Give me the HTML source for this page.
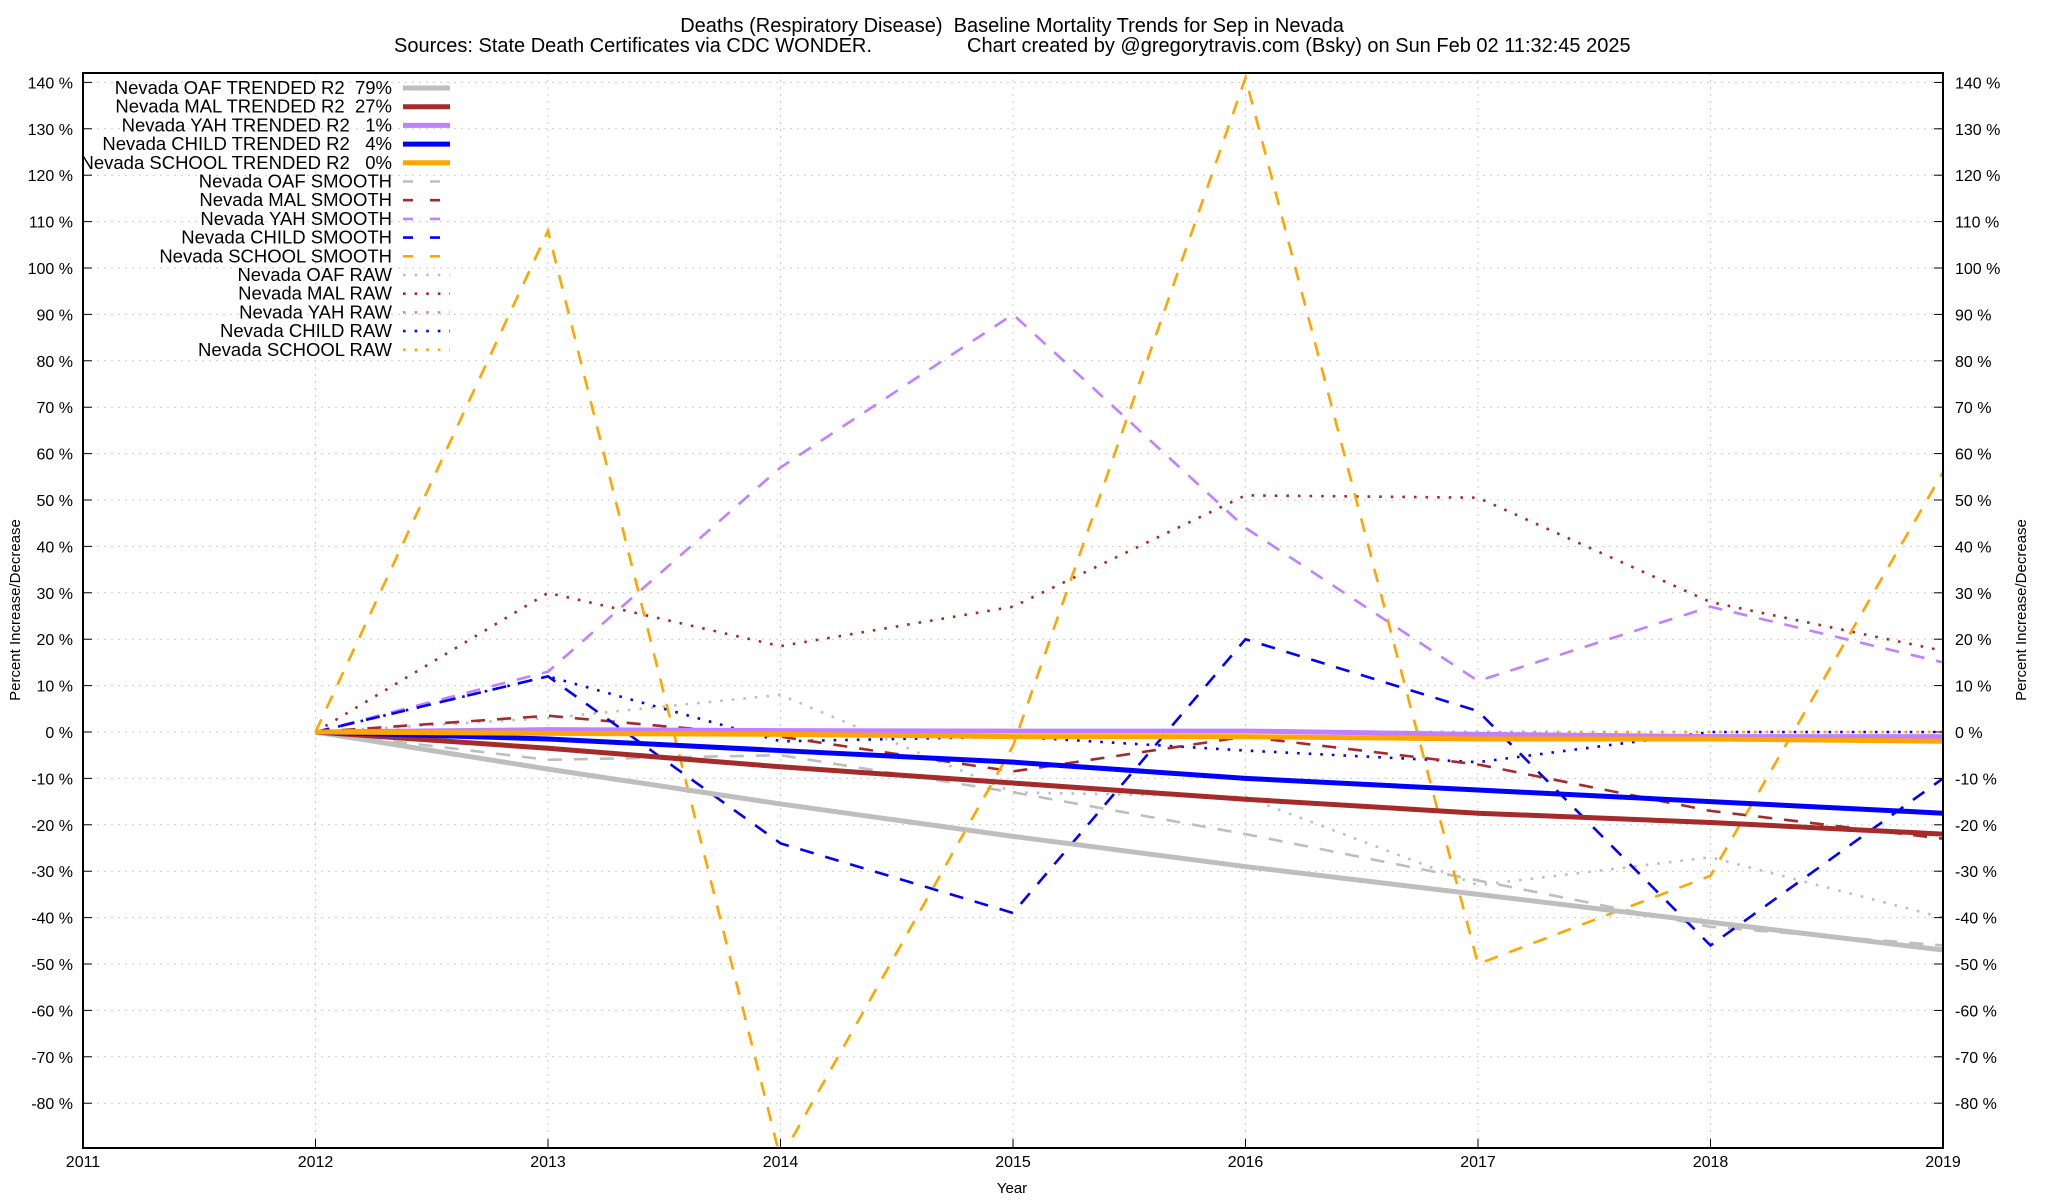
<!DOCTYPE html>
<html><head><meta charset="utf-8"><style>
html,body{margin:0;padding:0;background:#fff;}
svg{display:block;font-family:"Liberation Sans",Arial,sans-serif;}
.pre{white-space:pre;}
</style></head><body>
<svg id="chart" width="2048" height="1200" viewBox="0 0 2048 1200" xmlns="http://www.w3.org/2000/svg">
<text x="1012" y="32" font-size="20" text-anchor="middle" class="pre">Deaths (Respiratory Disease)  Baseline Mortality Trends for Sep in Nevada</text>
<text x="394" y="52" font-size="20">Sources: State Death Certificates via CDC WONDER.</text>
<text x="967" y="52" font-size="20">Chart created by @gregorytravis.com (Bsky) on Sun Feb 02 11:32:45 2025</text>
<g id="grid"></g><g id="series"></g><g id="axes"></g><g id="legend"></g>
<text transform="translate(20,610) rotate(-90)" font-size="15" text-anchor="middle">Percent Increase/Decrease</text>
<text transform="translate(2026,610) rotate(-90)" font-size="15" text-anchor="middle">Percent Increase/Decrease</text>
<text x="1012" y="1193" font-size="15" text-anchor="middle">Year</text>
</svg>
<script>
const years=[2012,2013,2014,2015,2016,2017,2018,2019];
const xTicks=[2011,2012,2013,2014,2015,2016,2017,2018,2019];
const yTicks=[140,130,120,110,100,90,80,70,60,50,40,30,20,10,0,-10,-20,-30,-40,-50,-60,-70,-80];
const oafTrend=[0,-8,-15.5,-22.5,-29,-35,-41,-47];
const malTrend=[0,-3.5,-7.5,-11,-14.5,-17.5,-19.5,-22];
const yahTrend=[0,0.5,0.3,0.2,0.2,-0.5,-1,-1];
const childTrend=[0,-1.5,-4,-6.5,-10,-12.5,-15,-17.5];
const schoolTrend=[0,-0.3,-0.5,-1,-1,-1.5,-1.5,-2];
const oafSmooth=[0,-6,-5,-13,-22,-32,-42,-46];
const malSmooth=[0,3.5,-1,-8.5,-1,-7,-17,-23];
const yahSmooth=[0,13,57,90,44,11,27,15];
const childSmooth=[0,12,-24,-39,20,4.5,-46,-10];
const schoolSmooth=[0,108,-92,-3,141,-50,-31,56];
const oafRaw=[0,3,8,-13,-14,-33,-27,-40];
const malRaw=[0,30,18.5,27,51,50.5,28,17.5];
const yahRaw=[0,0,0,0,0,0,0,0];
const childRaw=[0,12,-2,-1,-4,-6.5,0,0];
const schoolRaw=[0,0,0,0,0,0,0,0];

const L=83,R=1943,T=73,B=1148;
const x=v=>L+(v-2011)*(R-L)/8;
const y=v=>732-v*4.64;
const NS="http://www.w3.org/2000/svg";
function mk(tag,attrs,parent){const e=document.createElementNS(NS,tag);for(const k in attrs)e.setAttribute(k,attrs[k]);parent.appendChild(e);return e;}
const grid=document.getElementById('grid'),axes=document.getElementById('axes'),ser=document.getElementById('series'),leg=document.getElementById('legend');
const clip=mk('clipPath',{id:'pc'},document.getElementById('chart'));mk('rect',{x:L,y:T,width:R-L,height:B-T},clip);
yTicks.forEach(t=>{
 const g=mk('line',{x1:L,x2:R,y1:y(t),y2:y(t),stroke:'#ccc','stroke-dasharray':'2,5'},grid);
 
 
 mk('line',{x1:L,x2:L+9,y1:y(t),y2:y(t),stroke:'#000'},axes);
 mk('line',{x1:R-9,x2:R,y1:y(t),y2:y(t),stroke:'#000'},axes);
 const a=mk('text',{x:L-10,y:y(t)+6,'font-size':16,'text-anchor':'end'},axes);a.textContent=t+' %';
 
 
 const b=mk('text',{x:R+12,y:y(t)+6,'font-size':16},axes);b.textContent=t+' %';
 
 
});
xTicks.forEach(t=>{
 if(t>2011&&t<2019){const g=mk('line',{x1:x(t),x2:x(t),y1:T,y2:B,stroke:'#ccc','stroke-dasharray':'2,5'},grid);
 
 }
 mk('line',{x1:x(t),x2:x(t),y1:B-9,y2:B,stroke:'#000'},axes);
 const a=mk('text',{x:x(t),y:1167,'font-size':16,'text-anchor':'middle'},axes);a.textContent=t;
 
 
});
const fr=mk('rect',{x:L,y:T,width:R-L,height:B-T,fill:'none',stroke:'#000','stroke-width':2},axes);


const series=[
 ['Nevada OAF TRENDED R2  79%',oafTrend,'#bebebe','trend'],
 ['Nevada MAL TRENDED R2  27%',malTrend,'#a52a2a','trend'],
 ['Nevada YAH TRENDED R2   1%',yahTrend,'#c080ff','trend'],
 ['Nevada CHILD TRENDED R2   4%',childTrend,'#0000ff','trend'],
 ['Nevada SCHOOL TRENDED R2   0%',schoolTrend,'#ffa500','trend'],
 ['Nevada OAF SMOOTH',oafSmooth,'#bebebe','dash'],
 ['Nevada MAL SMOOTH',malSmooth,'#a52a2a','dash'],
 ['Nevada YAH SMOOTH',yahSmooth,'#c080ff','dash'],
 ['Nevada CHILD SMOOTH',childSmooth,'#0000ff','dash'],
 ['Nevada SCHOOL SMOOTH',schoolSmooth,'#ffa500','dash'],
 ['Nevada OAF RAW',oafRaw,'#bebebe','dot'],
 ['Nevada MAL RAW',malRaw,'#a52a2a','dot'],
 ['Nevada YAH RAW',yahRaw,'#c080ff','dot'],
 ['Nevada CHILD RAW',childRaw,'#0000ff','dot'],
 ['Nevada SCHOOL RAW',schoolRaw,'#ffa500','dot']];
const sty={trend:{w:5,d:'none'},dash:{w:2.6,d:'14,12'},dot:{w:2.6,d:'2.6,9'}};
const order=[10,11,12,13,14,5,6,7,8,9,0,1,2,3,4];
order.forEach(i=>{const s=series[i];const st=sty[s[3]];
 const p=mk('polyline',{points:s[1].map((v,j)=>x(years[j])+','+y(v)).join(' '),fill:'none',stroke:s[2],'stroke-width':st.w,'stroke-dasharray':st.d,'clip-path':'url(#pc)'},ser);
 
 
});
series.forEach((s,i)=>{const st=sty[s[3]];const yy=88+i*18.7;
 const g=mk('g',{},leg);
 
 
 const t=mk('text',{x:392,y:yy+6,'font-size':18.5,'text-anchor':'end','class':'pre'},g);t.textContent=s[0];
 mk('line',{x1:403,x2:450,y1:yy,y2:yy,stroke:s[2],'stroke-width':st.w,'stroke-dasharray':s[3]=='dash'?'10,17':(s[3]=='dot'?'2.6,9':'none')},g);
});
</script>
</body></html>
